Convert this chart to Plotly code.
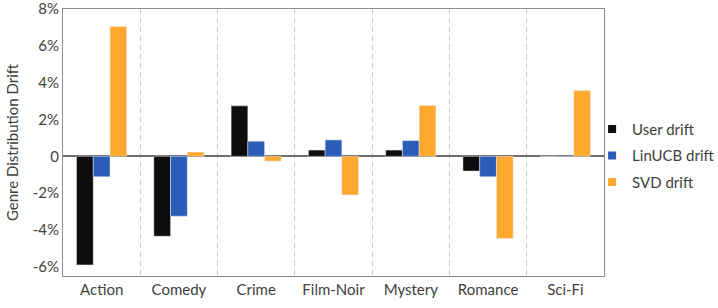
import plotly.graph_objects as go

genres = ["Action", "Comedy", "Crime", "Film-Noir", "Mystery", "Romance", "Sci-Fi"]
user_drift = [-0.059, -0.0434, 0.0274, 0.0034, 0.0034, -0.0080, 0.0]
linucb_drift = [-0.0111, -0.0325, 0.0082, 0.0089, 0.0085, -0.0111, -0.0003]
svd_drift = [0.0705, 0.0023, -0.0026, -0.0210, 0.0276, -0.0446, 0.0357]
y_tickvals = [-0.06, -0.04, -0.02, 0, 0.02, 0.04, 0.06, 0.08]
y_ticktext = ["-6%", "-4%", "-2%", "0", "2%", "4%", "6%", "8%"]

FONT = "Lato, Open Sans, sans-serif"
TXT = "#404040"
FS = 15
series = [("User drift", user_drift, "#0d0d0d"),
          ("LinUCB drift", linucb_drift, "#2a5cb8"),
          ("SVD drift", svd_drift, "#ffa82e")]

fig = go.Figure()
for name, vals, col in series:
    fig.add_trace(go.Bar(x=genres, y=vals, name=name, marker_color=col,
                         showlegend=False, legendgroup=name))
for name, vals, col in series:
    fig.add_trace(go.Scatter(x=[None], y=[None], mode="markers", name=name,
                             legendgroup=name,
                             marker=dict(symbol="square", size=8, color=col)))

fig.update_layout(
    width=718, height=308,
    margin=dict(l=63, r=114, t=9, b=32, autoexpand=False),
    paper_bgcolor="white", plot_bgcolor="white",
    barmode="group", bargap=0.35, bargroupgap=0,
    font=dict(family=FONT, size=FS, color=TXT),
    legend=dict(x=0.978, xanchor="left", y=0.45, yanchor="middle",
                bgcolor="rgba(0,0,0,0)",
                font=dict(size=FS, color=TXT), itemwidth=30,
                tracegroupgap=4),
    showlegend=True,
)
fig.update_xaxes(
    type="category", tickson="boundaries", ticks="", tickangle=0, automargin=False,
    showgrid=True, gridcolor="#cccccc", griddash="5px,4px", gridwidth=1,
    showline=True, linecolor="#8c8c8c", linewidth=1, mirror=True,
    tickfont=dict(size=FS, color=TXT),
)
fig.update_yaxes(
    range=[-0.065, 0.08001], tickvals=y_tickvals, ticktext=y_ticktext, automargin=False,
    ticklabeloverflow="allow",
    showgrid=False, zeroline=True, zerolinecolor="#6e6e6e", zerolinewidth=1.5,
    showline=True, linecolor="#8c8c8c", linewidth=1, mirror=True,
    ticks="", tickfont=dict(size=FS, color=TXT),
    title=dict(text="Genre Distribution Drift", font=dict(size=FS, color=TXT), standoff=10),
)

fig.write_html("out.html")
